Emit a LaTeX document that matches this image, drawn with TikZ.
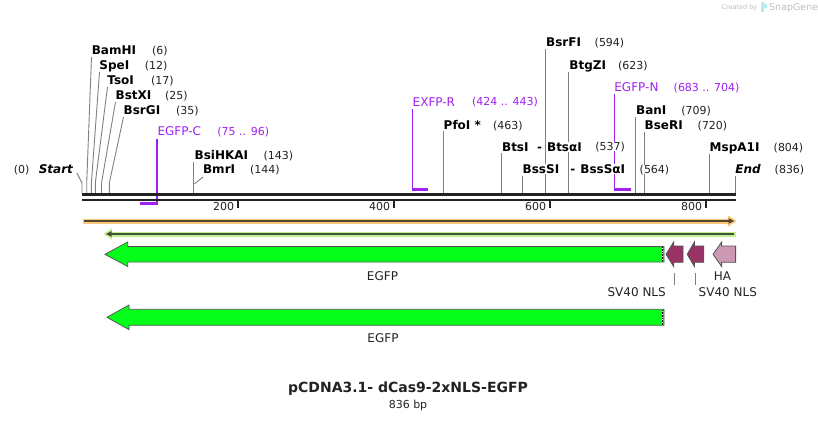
\documentclass[tikz,border=0pt]{standalone}
\usepackage{fontspec}
\setmainfont{DejaVu Sans}[ItalicFont={DejaVu Sans Oblique},BoldFont={DejaVu Sans Bold},BoldItalicFont={DejaVu Sans Bold Oblique}]
\definecolor{primer}{RGB}{160,32,240}
\definecolor{cutgray}{RGB}{128,128,128}
\definecolor{seqdark}{RGB}{34,34,34}
\definecolor{orangeL}{RGB}{250,200,120}
\definecolor{orangeD}{RGB}{80,70,50}
\definecolor{greenL}{RGB}{190,240,140}
\definecolor{greenD}{RGB}{70,80,60}
\definecolor{egfp}{RGB}{5,255,26}
\definecolor{nls}{RGB}{153,51,102}
\definecolor{ha}{RGB}{204,153,179}
\definecolor{outl}{RGB}{85,85,85}
\definecolor{snap}{RGB}{190,190,190}
\begin{document}
\begin{tikzpicture}[x=1pt,y=-1pt,
  nm/.style={anchor=west,inner sep=0.6pt,fill=white,text height=8.7pt,text depth=0pt,font=\fontsize{12}{14}\selectfont\bfseries},
  nmi/.style={nm,font=\fontsize{12}{14}\selectfont\bfseries\itshape},
  num/.style={anchor=west,inner sep=0.6pt,fill=white,text height=8pt,text depth=0pt,font=\fontsize{11}{13}\selectfont,text=seqdark},
  pnm/.style={anchor=west,inner sep=0.6pt,fill=white,text height=8.7pt,text depth=0pt,font=\fontsize{12}{14}\selectfont,text=primer},
  pnum/.style={anchor=west,inner sep=0.6pt,fill=white,text height=8pt,text depth=0pt,font=\fontsize{11}{13}\selectfont,text=primer},
  cut/.style={draw=cutgray,line width=0.9pt},
  pline/.style={draw=primer,line width=1.4pt},
  pbar/.style={draw=primer,line width=2.5pt},
  seqline/.style={draw=seqdark,line width=2.6pt},
  tickmark/.style={draw=seqdark,line width=2pt},
  ticklbl/.style={anchor=east,inner sep=0pt,font=\fontsize{11}{13}\selectfont,text=seqdark},
  feat/.style={draw=outl,line width=0.8pt},
  flbl/.style={inner sep=0pt,font=\fontsize{12}{14}\selectfont,text=seqdark}
]
\useasboundingbox (0,0) rectangle (818,420);

% ---------- cut site lines ----------
\draw[cut] (77,173) -- (82,183) -- (82,193);
\draw[cut] (91.5,57) -- (86.7,183) -- (86.7,193);
\draw[cut] (99.5,72) -- (91.4,183) -- (91.4,193);
\draw[cut] (107.5,87) -- (95.3,183) -- (95.3,193);
\draw[cut] (115.5,102) -- (101.5,183) -- (101.5,193);
\draw[cut] (123.5,117) -- (109.3,183) -- (109.3,193);
\draw[cut] (193.8,162) -- (193.8,193);
\draw[cut] (203,177) -- (194.3,184);
\draw[cut] (443.3,131) -- (443.3,193);
\draw[cut] (501.2,153) -- (501.2,193);
\draw[cut] (522.2,176) -- (522.2,193);
\draw[cut] (545.5,49) -- (545.5,193);
\draw[cut] (568.3,72) -- (568.3,193);
\draw[cut] (635.5,117) -- (635.5,193);
\draw[cut] (644,132) -- (644,193);
\draw[cut] (709.3,154) -- (709.3,193);
\draw[cut] (735,176) -- (735,193);

% ---------- primers ----------
\draw[pline] (157,139) -- (157,204.5);
\draw[pbar] (140,203.7) -- (157.7,203.7);
\draw[pline] (412.6,109) -- (412.6,190.5);
\draw[pbar] (411.9,189.7) -- (427.5,189.7);
\draw[pline] (614.4,94) -- (614.4,190.5);
\draw[pbar] (613.7,189.7) -- (631,189.7);

% ---------- labels ----------
\node[num] (n0) at (13,169.3) {(0)};
\node[nmi] (start) at (38,169.3) {Start};
\node[nm] (bamhi) at (91,50) {BamHI};   \node[num] at (151.3,50) {(6)};
\node[nm] (spei) at (98.6,65) {SpeI};    \node[num] at (144,65) {(12)};
\node[nm] (tsoi) at (106.6,80) {TsoI};   \node[num] at (150.3,80) {(17)};
\node[nm] (bstxi) at (114.9,95) {BstXI}; \node[num] at (164.3,95) {(25)};
\node[nm] (bsrgi) at (122.9,110) {BsrGI};\node[num] at (175.3,110) {(35)};
\node[pnm] (egfpc) at (156.8,131) {EGFP-C}; \node[pnum] at (216.6,131) {(75 .. 96)};
\node[nm] (bsihkai) at (193.9,155) {BsiHKAI}; \node[num] at (262.9,155) {(143)};
\node[nm] (bmri) at (202.3,169.3) {BmrI}; \node[num] at (249.3,169.3) {(144)};
\node[pnm] (exfpr) at (411.9,101.7) {EXFP-R}; \node[pnum] at (471.3,101.7) {(424 .. 443)};
\node[nm] (pfoi) at (442.9,125) {PfoI *}; \node[num] at (492.3,125) {(463)};
\node[nm] (btsi) at (501.3,146.7) {BtsI}; \node[nm] at (536.3,146.7) {-};
\node[nm] (btsai) at (546.3,146.7) {BtsαI}; \node[num] at (594.6,146.7) {(537)};
\node[nm] (bsssi) at (521.9,169.3) {BssSI}; \node[nm] at (569.6,169.3) {-};
\node[nm] (bsssai) at (579.6,169.3) {BssSαI}; \node[num] at (638.9,169.3) {(564)};
\node[nm] (bsrfi) at (545.3,42.3) {BsrFI}; \node[num] at (593.9,42.3) {(594)};
\node[nm] (btgzi) at (568.6,65) {BtgZI}; \node[num] at (617.3,65) {(623)};
\node[pnm] (egfpn) at (613.6,87.3) {EGFP-N}; \node[pnum] at (672.9,87.3) {(683 .. 704)};
\node[nm] (bani) at (635.3,110) {BanI}; \node[num] at (680.6,110) {(709)};
\node[nm] (beri) at (643.9,125) {BseRI}; \node[num] at (696.9,125) {(720)};
\node[nm] (msp) at (708.9,147.3) {MspA1I}; \node[num] at (772.9,147.3) {(804)};
\node[nmi] (end) at (734.6,169.3) {End}; \node[num] at (773.9,169.3) {(836)};

% ---------- sequence line ----------
\draw[seqline] (82,194.6) -- (735.5,194.6);
\draw[seqline] (82,199.9) -- (735.5,199.9);

% ticks
\foreach \xx/\lab in {238/200,394/400,550/600,706/800}{
  \draw[tickmark] (\xx,201) -- (\xx,207.5);
  \node[ticklbl] at (\xx-3.6,206.3) {\lab};
}

% ---------- orange full-length feature ----------
\draw[orangeL,line width=5pt] (82.5,221) -- (730,221);
\fill[orangeL] (728,215.3) -- (736.5,221) -- (728,226.7) -- cycle;
\draw[orangeD,line width=1.8pt] (84,221) -- (730,221);
\fill[orangeD] (728.5,218.2) -- (734,221) -- (728.5,223.8) -- cycle;

% ---------- green full-length feature ----------
\draw[greenL,line width=5pt] (110,234) -- (736,234);
\fill[greenL] (112,228.3) -- (103.8,234) -- (112,239.7) -- cycle;
\draw[greenD,line width=1.8pt] (110,234) -- (734,234);
\fill[greenD] (111.5,231.2) -- (106,234) -- (111.5,236.8) -- cycle;

% ---------- EGFP arrows ----------
\draw[feat,fill=egfp] (105,254.3) -- (127.7,242) -- (127.7,246.6) -- (664,246.6) -- (664,262) -- (127.7,262) -- (127.7,266.5) -- cycle;
\draw[white,line width=0.8pt] (662.3,247.2) -- (662.3,261.4);
\draw[black,line width=0.8pt,dash pattern=on 0.8pt off 0.8pt] (662.3,247.2) -- (662.3,261.4);
\node[flbl] (egfp1) at (382.5,276) {EGFP};

\draw[feat,fill=egfp] (107,317.3) -- (129,305) -- (129,309.3) -- (664,309.3) -- (664,325.3) -- (129,325.3) -- (129,329.6) -- cycle;
\draw[white,line width=0.8pt] (662.3,310) -- (662.3,324.6);
\draw[black,line width=0.8pt,dash pattern=on 0.8pt off 0.8pt] (662.3,310) -- (662.3,324.6);
\node[flbl] (egfp2) at (383,338) {EGFP};

% ---------- NLS / HA ----------
\draw[feat,fill=nls] (666,254.3) -- (673.6,242) -- (673.6,246) -- (683,246) -- (683,262.3) -- (673.6,262.3) -- (673.6,266.5) -- cycle;
\draw[feat,fill=nls] (687.2,254.3) -- (694.4,242) -- (694.4,246) -- (703.6,246) -- (703.6,262.3) -- (694.4,262.3) -- (694.4,266.5) -- cycle;
\draw[feat,fill=ha] (713,254.3) -- (721.6,242) -- (721.6,246) -- (735.6,246) -- (735.6,262.3) -- (721.6,262.3) -- (721.6,266.5) -- cycle;

\node[flbl] (nls1) at (636.7,291.7) {SV40 NLS};
\node[flbl] (nls2) at (727.8,291.7) {SV40 NLS};
\node[flbl] (halbl) at (722.5,275.8) {HA};
\draw[cut] (674.7,273) -- (674.7,284.7);
\draw[cut] (695.7,273) -- (695.7,284.7);

% ---------- title ----------
\node[inner sep=0pt,font=\fontsize{14}{16}\selectfont\bfseries,text=seqdark] (title) at (408,389) {pCDNA3.1- dCas9-2xNLS-EGFP};
\node[inner sep=0pt,font=\fontsize{11}{13}\selectfont,text=seqdark] (bp) at (408,405.3) {836 bp};

% ---------- watermark ----------
\node[anchor=east,inner sep=0pt,font=\fontsize{6.5}{8}\selectfont,text=snap] (cby) at (757.5,7.5) {Created by};
\fill[snap!60!cyan!50] (760.5,2.5) rectangle (763.5,12.5);
\fill[snap!60!cyan!50] (763.5,2.5) -- (767,4.5) -- (767,8) -- (763.5,8.5) -- cycle;
\node[anchor=west,inner sep=0pt,font=\fontsize{9.5}{11}\selectfont,text=snap] (sg) at (769,7.5) {SnapGene};
\end{tikzpicture}
\end{document}
